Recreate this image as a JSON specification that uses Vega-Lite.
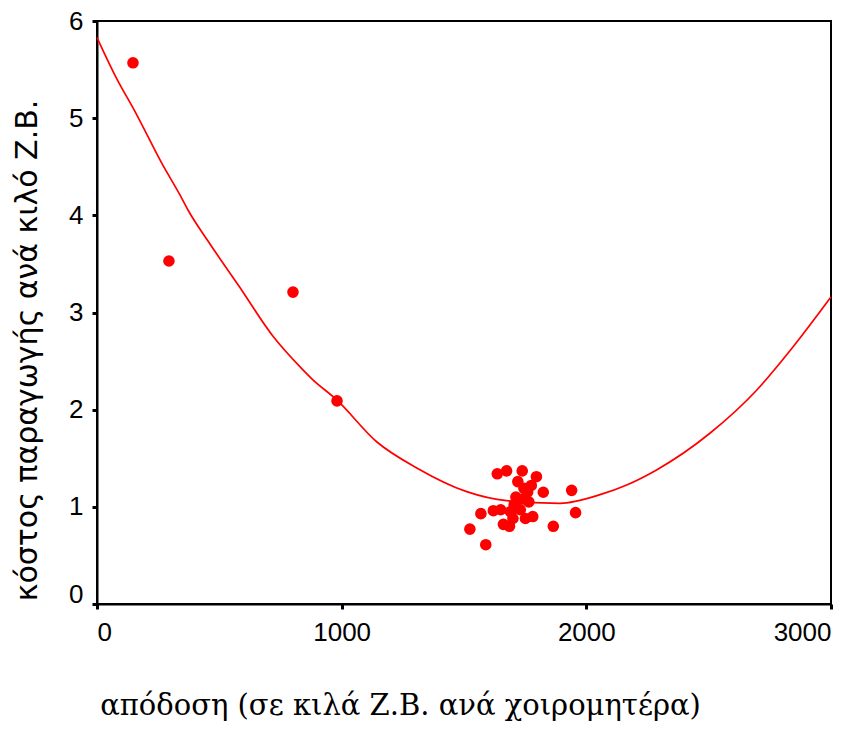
{
  "$schema": "https://vega.github.io/schema/vega-lite/v6.json",
  "width": 734,
  "height": 583,
  "autosize": {"type": "none"},
  "padding": {"left": 97, "top": 21, "right": 35, "bottom": 127},
  "background": "white",
  "config": {
    "view": {"stroke": "black", "strokeWidth": 2},
    "axis": {
      "domainColor": "black", "domainWidth": 2,
      "tickColor": "black", "tickWidth": 3, "tickSize": 5,
      "grid": false,
      "labelFont": "Liberation Sans", "labelFontSize": 26, "labelColor": "black",
      "titleColor": "black", "titleFontWeight": "normal"
    }
  },
  "datasets": {
    "points": [
      {"apodosi": 147, "kostos": 5.57},
      {"apodosi": 294, "kostos": 3.53},
      {"apodosi": 801, "kostos": 3.21},
      {"apodosi": 981, "kostos": 2.09},
      {"apodosi": 1524, "kostos": 0.77},
      {"apodosi": 1589, "kostos": 0.61},
      {"apodosi": 1569, "kostos": 0.93},
      {"apodosi": 1620, "kostos": 0.96},
      {"apodosi": 1636, "kostos": 1.34},
      {"apodosi": 1674, "kostos": 1.37},
      {"apodosi": 1738, "kostos": 1.37},
      {"apodosi": 1796, "kostos": 1.31},
      {"apodosi": 1824, "kostos": 1.15},
      {"apodosi": 1940, "kostos": 1.17},
      {"apodosi": 1956, "kostos": 0.94},
      {"apodosi": 1865, "kostos": 0.80},
      {"apodosi": 1661, "kostos": 0.82},
      {"apodosi": 1686, "kostos": 0.80},
      {"apodosi": 1751, "kostos": 0.88},
      {"apodosi": 1781, "kostos": 0.90},
      {"apodosi": 1712, "kostos": 1.10},
      {"apodosi": 1720, "kostos": 1.26},
      {"apodosi": 1745, "kostos": 1.19},
      {"apodosi": 1705, "kostos": 1.02},
      {"apodosi": 1765, "kostos": 1.05},
      {"apodosi": 1730, "kostos": 0.97},
      {"apodosi": 1760, "kostos": 1.15},
      {"apodosi": 1690, "kostos": 0.95},
      {"apodosi": 1775, "kostos": 1.22},
      {"apodosi": 1700, "kostos": 0.88},
      {"apodosi": 1740, "kostos": 1.08},
      {"apodosi": 1650, "kostos": 0.97}
    ],
    "fit": [
      {"apodosi": 0, "kostos": 5.83},
      {"apodosi": 80, "kostos": 5.41},
      {"apodosi": 155, "kostos": 5.07},
      {"apodosi": 264, "kostos": 4.54},
      {"apodosi": 339, "kostos": 4.21},
      {"apodosi": 373, "kostos": 4.05},
      {"apodosi": 455, "kostos": 3.73},
      {"apodosi": 578, "kostos": 3.28},
      {"apodosi": 721, "kostos": 2.75},
      {"apodosi": 830, "kostos": 2.44},
      {"apodosi": 877, "kostos": 2.32},
      {"apodosi": 980, "kostos": 2.10},
      {"apodosi": 1143, "kostos": 1.67},
      {"apodosi": 1307, "kostos": 1.40},
      {"apodosi": 1511, "kostos": 1.156},
      {"apodosi": 1674, "kostos": 1.063},
      {"apodosi": 1892, "kostos": 1.036},
      {"apodosi": 2056, "kostos": 1.125},
      {"apodosi": 2165, "kostos": 1.225},
      {"apodosi": 2287, "kostos": 1.38},
      {"apodosi": 2505, "kostos": 1.757},
      {"apodosi": 2696, "kostos": 2.20},
      {"apodosi": 2846, "kostos": 2.65},
      {"apodosi": 3000, "kostos": 3.16}
    ]
  },
  "encoding": {
    "x": {
      "field": "apodosi", "type": "quantitative",
      "scale": {"domain": [0, 3000], "nice": false, "zero": false},
      "axis": {
        "values": [0, 1000, 2000, 3000],
        "format": "d",
        "labelPadding": 10,
        "title": "απόδοση (σε κιλά Ζ.Β. ανά χοιρομητέρα)",
        "titleFont": "DejaVu Serif", "titleFontSize": 29,
        "titleX": 303, "titleY": 110, "titleAnchor": null, "titleAlign": "center", "titleBaseline": "alphabetic"
      }
    },
    "y": {
      "field": "kostos", "type": "quantitative",
      "scale": {"domain": [0, 6], "nice": false},
      "axis": {
        "values": [0, 1, 2, 3, 4, 5, 6],
        "labelPadding": 9,
        "labelOffset": {"condition": {"test": "datum.value === 0", "value": -10}, "value": 0},
        "title": "κόστος παραγωγής ανά κιλό Ζ.Β.",
        "titleFont": "DejaVu Sans", "titleFontSize": 30,
        "titleX": -61, "titleY": 329, "titleAngle": -90, "titleAlign": "center", "titleBaseline": "alphabetic"
      }
    }
  },
  "layer": [
    {
      "data": {"name": "fit"},
      "mark": {"type": "line", "color": "#ff0000", "strokeWidth": 1.7, "interpolate": "monotone"}
    },
    {
      "data": {"name": "points"},
      "mark": {"type": "circle", "color": "#ff0000", "opacity": 1, "size": 135}
    }
  ]
}
